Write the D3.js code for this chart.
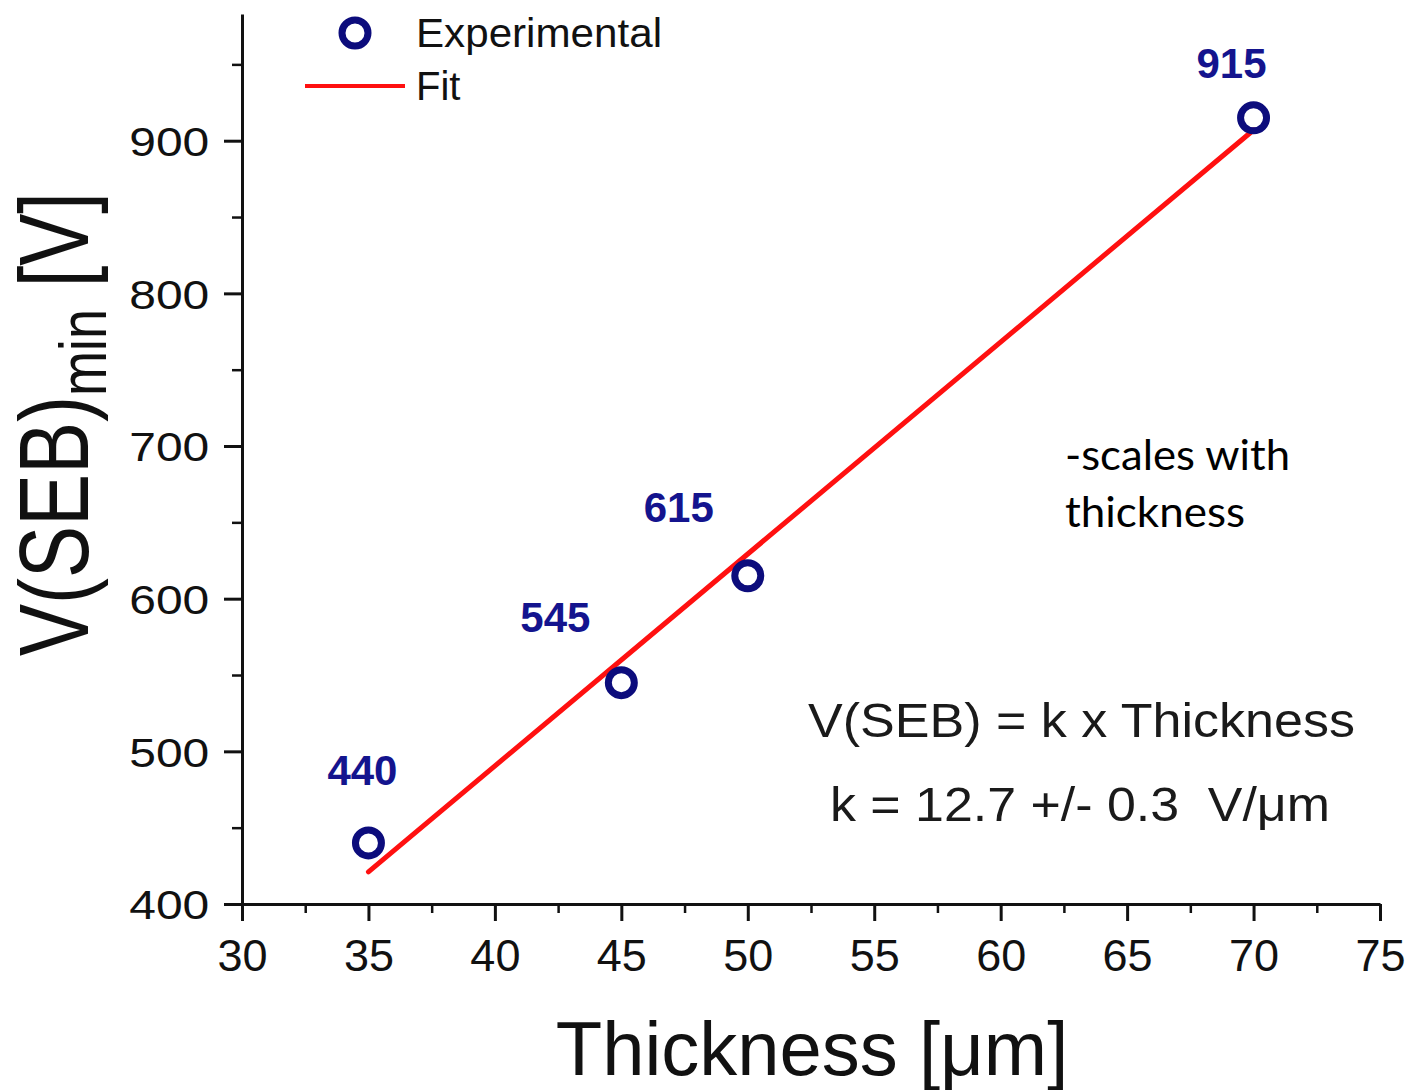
<!DOCTYPE html>
<html lang="en">
<head>
    <meta charset="utf-8">
    <title>V(SEB)min vs Thickness</title>
    <style>
        body { margin: 0; background: white; }
        text { font-family: "Liberation Sans", Arial, sans-serif; }
        .axis path, .axis line { stroke: #111; }
        .axis text { fill: #111; }
    </style>
</head>
<body>
    <svg width="1408" height="1090"></svg>
    <script src="https://d3js.org/d3.v7.min.js"></script>
    <script>
        // measured points
        const thickness = [35, 45, 50, 70];
        const voltage = [440, 545, 615, 915];
        const pointLabels = ['440', '545', '615', '915'];
        // label nudges (px) so they sit where the original put them
        const labelDx = [-6, -66, -69, -22];
        const labelDy = [-58, -51, -54, -40];

        // fit line end points
        const fitX = [35, 70];
        const fitY = [421, 907];

        const xTicks = [30, 35, 40, 45, 50, 55, 60, 65, 70, 75];
        const yTicks = [400, 500, 600, 700, 800, 900];

        var svg = d3.select('svg');

        var x = d3.scaleLinear().domain([30, 75]).range([242, 1380]),
            y = d3.scaleLinear().domain([400, 983]).range([904, 14]);

        var navy = '#0c0c7c',
            labelBlue = '#14148e';

        // minor ticks first, then major on top
        svg.append('g')
            .attr('class', 'axis')
            .attr('transform', 'translate(0,904)')
            .call(d3.axisBottom(x).tickValues(d3.range(32.5, 75, 5)).tickSize(9).tickFormat(''))
            .call(g => g.select('.domain').remove())
            .selectAll('line').attr('stroke-width', 2.5);

        svg.append('g')
            .attr('class', 'axis')
            .attr('transform', 'translate(242,0)')
            .call(d3.axisLeft(y).tickValues(d3.range(450, 983, 100)).tickSize(10).tickFormat(''))
            .call(g => g.select('.domain').remove())
            .selectAll('line').attr('stroke-width', 2.5);

        var xAxis = svg.append('g')
            .attr('class', 'axis')
            .attr('transform', 'translate(0,904)')
            .call(d3.axisBottom(x).tickValues(xTicks).tickSize(17).tickSizeOuter(0).tickPadding(18));
        xAxis.select('.domain').attr('stroke-width', 3);
        xAxis.selectAll('line').attr('stroke-width', 3);
        xAxis.selectAll('text').style('font-size', '45px');

        var yAxis = svg.append('g')
            .attr('class', 'axis')
            .attr('transform', 'translate(242,0)')
            .call(d3.axisLeft(y).tickValues(yTicks).tickSize(18).tickSizeOuter(0).tickPadding(0));
        yAxis.select('.domain').attr('stroke-width', 3);
        yAxis.selectAll('line').attr('stroke-width', 3);
        yAxis.selectAll('text')
            .style('font-size', '41px')
            .attr('x', -28)
            .attr('dy', '0.36em')
            .attr('transform', 'scale(1.17,1)');

        // axis titles
        svg.append('text')
            .attr('x', 812)
            .attr('y', 1075)
            .attr('text-anchor', 'middle')
            .style('font-size', '76px')
            .attr('fill', '#111')
            .text('Thickness [\u03bcm]');

        var yTitle = svg.append('text')
            .attr('transform', 'translate(88,424) rotate(-90) scale(1,1.25)')
            .attr('text-anchor', 'middle')
            .style('font-size', '78px')
            .attr('fill', '#111');
        yTitle.append('tspan').text('V(SEB)');
        yTitle.append('tspan').attr('dy', 14).style('font-size', '54px').text('min');
        yTitle.append('tspan').attr('dy', -14).text('\u00a0[V]');

        // fit
        svg.append('line')
            .attr('x1', x(fitX[0])).attr('y1', y(fitY[0]))
            .attr('x2', x(fitX[1])).attr('y2', y(fitY[1]))
            .attr('stroke', '#ff1010')
            .attr('stroke-width', 5)
            .attr('stroke-linecap', 'round');

        // experimental points
        var pts = thickness.map((t, i) => ({ t: t, v: voltage[i], label: pointLabels[i], dx: labelDx[i], dy: labelDy[i] }));

        svg.append('g').selectAll('circle')
            .data(pts)
            .enter().append('circle')
            .attr('cx', d => x(d.t))
            .attr('cy', d => y(d.v))
            .attr('r', 13)
            .attr('fill', 'none')
            .attr('stroke', navy)
            .attr('stroke-width', 7);

        svg.append('g').selectAll('text')
            .data(pts)
            .enter().append('text')
            .attr('x', d => x(d.t) + d.dx)
            .attr('y', d => y(d.v) + d.dy)
            .attr('text-anchor', 'middle')
            .attr('fill', labelBlue)
            .style('font-size', '42px')
            .style('font-weight', 'bold')
            .text(d => d.label);

        // legend
        svg.append('circle')
            .attr('cx', 355).attr('cy', 33).attr('r', 13)
            .attr('fill', 'none').attr('stroke', navy).attr('stroke-width', 7);
        svg.append('text')
            .attr('x', 416).attr('y', 47)
            .style('font-size', '40px').attr('fill', '#111')
            .attr('textLength', 246).attr('lengthAdjust', 'spacingAndGlyphs')
            .text('Experimental');
        svg.append('line')
            .attr('x1', 305).attr('x2', 405).attr('y1', 86).attr('y2', 86)
            .attr('stroke', '#ff1010').attr('stroke-width', 4);
        svg.append('text')
            .attr('x', 416).attr('y', 100)
            .style('font-size', '40px').attr('fill', '#111')
            .text('Fit');

        // annotations
        svg.append('text')
            .attr('x', 1065).attr('y', 470)
            .style('font-family', 'Lato, "Open Sans", sans-serif')
            .style('font-size', '42px').attr('fill', '#000')
            .attr('textLength', 225).attr('lengthAdjust', 'spacingAndGlyphs')
            .text('-scales with');
        svg.append('text')
            .attr('x', 1065).attr('y', 527)
            .style('font-family', 'Lato, "Open Sans", sans-serif')
            .style('font-size', '42px').attr('fill', '#000')
            .attr('textLength', 180).attr('lengthAdjust', 'spacingAndGlyphs')
            .text('thickness');

        svg.append('text')
            .attr('x', 808).attr('y', 737)
            .style('font-size', '48px').attr('fill', '#1a1a1a')
            .attr('textLength', 547).attr('lengthAdjust', 'spacingAndGlyphs')
            .text('V(SEB) = k x Thickness');
        svg.append('text')
            .attr('x', 830).attr('y', 821)
            .style('font-size', '48px').attr('fill', '#1a1a1a')
            .attr('textLength', 500).attr('lengthAdjust', 'spacingAndGlyphs')
            .text('k = 12.7 +/- 0.3\u00a0\u00a0V/\u03bcm');
    </script>
</body>
</html>
